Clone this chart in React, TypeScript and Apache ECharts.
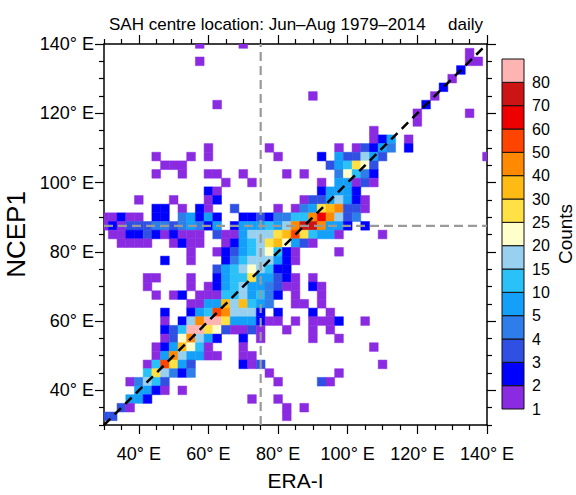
import React, { useEffect, useRef } from 'react';
import * as echarts from 'echarts';

// Colour-bar levels (lower bounds of each class) and colours
const levels = [1, 2, 3, 4, 5, 10, 15, 20, 25, 30, 40, 50, 60, 70, 80];
const levelColors = [
  '#8a2be2', '#0000ff', '#2f50e2', '#2e7de8', '#14a0f8', '#2ac0f8', '#98d0ef',
  '#ffffcc', '#ffe045', '#ffbb14', '#ff8a00', '#ff4400', '#ee0000', '#cc1414', '#ffb4b4',
];

const majorTicks = [40, 60, 80, 100, 120, 140];
const minorTicks = [30, 35, 45, 50, 55, 65, 70, 75, 85, 90, 95, 105, 110, 115, 125, 130, 135];
const meanEra = 75;
const meanNcep = 87.5;

// [ERA-I lon, NCEP1 lon, count]  — cells north of 92.5
const upperCells: [number, number, number][] = [
  [57.5, 140, 1], [70, 140, 1],
  [135, 137.5, 1],
  [57.5, 135, 1], [135, 135, 1], [137.5, 135, 1],
  [132.5, 132.5, 2],
  [130, 130, 1],
  [127.5, 127.5, 2],
  [90, 125, 1], [125, 125, 1],
  [62.5, 122.5, 1], [122.5, 122.5, 2],
  [120, 120, 1], [135, 120, 1],
  [120, 117.5, 1],
  [107.5, 115, 1],
  [107.5, 112.5, 1], [110, 112.5, 2], [112.5, 112.5, 7], [117.5, 112.5, 1],
  [60, 110, 1], [77.5, 110, 1], [97.5, 110, 1], [102.5, 110, 1], [105, 110, 3], [107.5, 110, 2], [110, 110, 7], [112.5, 110, 4], [117.5, 110, 2],
  [45, 107.5, 1], [55, 107.5, 1], [60, 107.5, 1], [80, 107.5, 1], [92.5, 107.5, 2], [97.5, 107.5, 7], [100, 107.5, 3], [102.5, 107.5, 3], [105, 107.5, 17], [107.5, 107.5, 7], [110, 107.5, 3], [140, 107.5, 1],
  [47.5, 105, 1], [50, 105, 1], [52.5, 105, 1], [95, 105, 3], [97.5, 105, 7], [100, 105, 12], [102.5, 105, 27], [105, 105, 22], [107.5, 105, 3],
  [45, 102.5, 1], [52.5, 102.5, 1], [60, 102.5, 1], [62.5, 102.5, 1], [70, 102.5, 1], [82.5, 102.5, 1], [87.5, 102.5, 1], [97.5, 102.5, 4], [100, 102.5, 22], [102.5, 102.5, 12], [105, 102.5, 4], [107.5, 102.5, 2],
  [65, 100, 1], [72.5, 100, 1], [92.5, 100, 1], [97.5, 100, 7], [100, 100, 7], [102.5, 100, 1], [105, 100, 3], [107.5, 100, 1],
  [60, 97.5, 2], [62.5, 97.5, 1], [92.5, 97.5, 2], [95, 97.5, 7], [97.5, 97.5, 7], [100, 97.5, 7], [102.5, 97.5, 2],
  [40, 95, 1], [50, 95, 1], [60, 95, 1], [62.5, 95, 2], [87.5, 95, 1], [90, 95, 3], [92.5, 95, 3], [95, 95, 7], [97.5, 95, 17], [100, 95, 7], [102.5, 95, 2], [105, 95, 1],
];

// cells 77.5 .. 92.5
const bandCells: [number, number, number][] = [
  [45, 92.5, 2], [47.5, 92.5, 2], [52.5, 92.5, 1], [57.5, 92.5, 2], [60, 92.5, 1], [67.5, 92.5, 3], [80, 92.5, 1], [85, 92.5, 1], [87.5, 92.5, 4], [90, 92.5, 7], [92.5, 92.5, 27], [95, 92.5, 35], [97.5, 92.5, 45], [100, 92.5, 3], [102.5, 92.5, 3], [105, 92.5, 1],
  [30, 90, 1], [32.5, 90, 1], [35, 90, 2], [37.5, 90, 1], [40, 90, 1], [45, 90, 2], [47.5, 90, 2], [52.5, 90, 4], [55, 90, 7], [57.5, 90, 2], [60, 90, 7], [62.5, 90, 2], [70, 90, 2], [72.5, 90, 2], [75, 90, 3], [77.5, 90, 2], [80, 90, 4], [82.5, 90, 4], [85, 90, 12], [87.5, 90, 12], [90, 90, 45], [92.5, 90, 65], [95, 90, 45], [97.5, 90, 17], [100, 90, 3], [102.5, 90, 4],
  [30, 87.5, 1], [32.5, 87.5, 2], [35, 87.5, 1], [37.5, 87.5, 3], [40, 87.5, 3], [42.5, 87.5, 3], [45, 87.5, 4], [47.5, 87.5, 4], [50, 87.5, 3], [52.5, 87.5, 4], [55, 87.5, 7], [57.5, 87.5, 4], [60, 87.5, 2], [62.5, 87.5, 7], [67.5, 87.5, 2], [70, 87.5, 7], [72.5, 87.5, 7], [75, 87.5, 7], [77.5, 87.5, 12], [80, 87.5, 7], [82.5, 87.5, 15], [85, 87.5, 45], [87.5, 87.5, 75], [90, 87.5, 75], [92.5, 87.5, 45], [95, 87.5, 7], [97.5, 87.5, 7], [100, 87.5, 2], [105, 87.5, 2],
  [32.5, 85, 1], [35, 85, 1], [37.5, 85, 2], [40, 85, 2], [42.5, 85, 3], [45, 85, 2], [47.5, 85, 1], [50, 85, 2], [52.5, 85, 1], [55, 85, 1], [57.5, 85, 1], [62.5, 85, 3], [65, 85, 1], [67.5, 85, 1], [70, 85, 7], [72.5, 85, 17], [75, 85, 17], [77.5, 85, 17], [80, 85, 27], [82.5, 85, 35], [85, 85, 55], [87.5, 85, 27], [90, 85, 12], [92.5, 85, 7], [95, 85, 7], [97.5, 85, 1], [110, 85, 1],
  [35, 82.5, 1], [37.5, 82.5, 1], [40, 82.5, 1], [42.5, 82.5, 1], [50, 82.5, 1], [52.5, 82.5, 2], [55, 82.5, 1], [57.5, 82.5, 1], [65, 82.5, 1], [67.5, 82.5, 2], [70, 82.5, 7], [72.5, 82.5, 12], [75, 82.5, 17], [77.5, 82.5, 27], [80, 82.5, 35], [82.5, 82.5, 22], [85, 82.5, 7], [87.5, 82.5, 3], [90, 82.5, 1],
  [55, 80, 1], [62.5, 80, 1], [65, 80, 2], [67.5, 80, 3], [70, 80, 7], [72.5, 80, 12], [75, 80, 17], [77.5, 80, 22], [80, 80, 12], [82.5, 80, 2], [85, 80, 1], [97.5, 80, 1],
  [47.5, 77.5, 2], [55, 77.5, 1], [65, 77.5, 2], [67.5, 77.5, 4], [70, 77.5, 12], [72.5, 77.5, 17], [75, 77.5, 17], [77.5, 77.5, 17], [80, 77.5, 7], [82.5, 77.5, 2], [85, 77.5, 1],
];

// cells south of 77.5
const lowerCells: [number, number, number][] = [
  [62.5, 75, 3], [65, 75, 7], [67.5, 75, 12], [70, 75, 17], [72.5, 75, 22], [75, 75, 17], [77.5, 75, 12], [80, 75, 2], [82.5, 75, 2],
  [42.5, 72.5, 1], [45, 72.5, 1], [55, 72.5, 1], [62.5, 72.5, 2], [65, 72.5, 7], [67.5, 72.5, 12], [70, 72.5, 12], [72.5, 72.5, 27], [75, 72.5, 7], [77.5, 72.5, 7], [80, 72.5, 3], [82.5, 72.5, 2], [85, 72.5, 1], [90, 72.5, 1],
  [42.5, 70, 1], [55, 70, 1], [60, 70, 1], [62.5, 70, 2], [65, 70, 7], [67.5, 70, 12], [70, 70, 17], [72.5, 70, 7], [75, 70, 7], [77.5, 70, 4], [80, 70, 3], [82.5, 70, 1], [85, 70, 1], [90, 70, 2], [92.5, 70, 1],
  [45, 67.5, 1], [50, 67.5, 1], [52.5, 67.5, 2], [57.5, 67.5, 1], [60, 67.5, 1], [62.5, 67.5, 1], [65, 67.5, 12], [67.5, 67.5, 12], [70, 67.5, 17], [72.5, 67.5, 7], [75, 67.5, 12], [77.5, 67.5, 4], [80, 67.5, 2], [85, 67.5, 1], [92.5, 67.5, 1],
  [55, 65, 1], [57.5, 65, 1], [60, 65, 7], [62.5, 65, 7], [65, 65, 35], [67.5, 65, 17], [70, 65, 35], [72.5, 65, 12], [75, 65, 7], [77.5, 65, 4], [85, 65, 1], [87.5, 65, 1], [92.5, 65, 1],
  [47.5, 62.5, 2], [55, 62.5, 2], [57.5, 62.5, 7], [60, 62.5, 12], [62.5, 62.5, 55], [65, 62.5, 45], [67.5, 62.5, 17], [70, 62.5, 17], [72.5, 62.5, 17], [75, 62.5, 2], [80, 62.5, 2], [90, 62.5, 2], [95, 62.5, 1],
  [47.5, 60, 1], [52.5, 60, 2], [55, 60, 17], [57.5, 60, 45], [60, 60, 85], [62.5, 60, 85], [65, 60, 27], [67.5, 60, 7], [70, 60, 7], [72.5, 60, 7], [75, 60, 2], [77.5, 60, 1], [80, 60, 1], [85, 60, 1], [90, 60, 1], [92.5, 60, 1], [95, 60, 1], [97.5, 60, 2], [105, 60, 1],
  [47.5, 57.5, 2], [50, 57.5, 3], [52.5, 57.5, 12], [55, 57.5, 85], [57.5, 57.5, 85], [60, 57.5, 27], [62.5, 57.5, 22], [65, 57.5, 3], [67.5, 57.5, 1], [70, 57.5, 1], [72.5, 57.5, 3], [75, 57.5, 1], [82.5, 57.5, 1], [90, 57.5, 1], [95, 57.5, 1],
  [47.5, 55, 1], [50, 55, 3], [52.5, 55, 22], [55, 55, 45], [57.5, 55, 17], [60, 55, 7], [62.5, 55, 2], [70, 55, 2], [75, 55, 1], [90, 55, 1], [97.5, 55, 1],
  [45, 52.5, 1], [47.5, 52.5, 2], [50, 52.5, 7], [52.5, 52.5, 35], [55, 52.5, 22], [57.5, 52.5, 12], [60, 52.5, 1], [70, 52.5, 1], [107.5, 52.5, 1],
  [45, 50, 1], [47.5, 50, 7], [50, 50, 45], [52.5, 50, 17], [55, 50, 7], [57.5, 50, 7], [60, 50, 1], [62.5, 50, 1], [70, 50, 1], [72.5, 50, 1],
  [42.5, 47.5, 1], [45, 47.5, 12], [47.5, 47.5, 55], [50, 47.5, 27], [52.5, 47.5, 7], [55, 47.5, 3], [70, 47.5, 2], [72.5, 47.5, 1], [75, 47.5, 3], [110, 47.5, 1],
  [42.5, 45, 12], [45, 45, 27], [47.5, 45, 17], [50, 45, 4], [52.5, 45, 2], [55, 45, 4], [77.5, 45, 1], [97.5, 45, 1],
  [37.5, 42.5, 1], [40, 42.5, 4], [42.5, 42.5, 17], [45, 42.5, 12], [47.5, 42.5, 3], [80, 42.5, 1], [92.5, 42.5, 3], [95, 42.5, 1],
  [40, 40, 7], [42.5, 40, 7], [45, 40, 2], [47.5, 40, 1], [52.5, 40, 1],
  [37.5, 37.5, 7], [40, 37.5, 7], [42.5, 37.5, 2], [72.5, 37.5, 1], [80, 37.5, 1],
  [35, 35, 3], [37.5, 35, 1], [82.5, 35, 1], [87.5, 35, 1],
  [30, 32.5, 3], [32.5, 32.5, 3], [82.5, 32.5, 1],
];

const cellHalf = 1.25;
const FONT = '"Liberation Sans", Arial, Helvetica, sans-serif';

function colorFor(c: number): string {
  let idx = 0;
  for (let i = 0; i < levels.length; i++) if (c >= levels[i]) idx = i;
  return levelColors[idx];
}

export default function App() {
  const ref = useRef<HTMLDivElement>(null);
  useEffect(() => {
    const chart = echarts.init(ref.current!, null, { renderer: 'svg' });
    const cells = [...upperCells, ...bandCells, ...lowerCells];
    const lonFmt = (v: number) => `${v}° E`;
    const axisLineStyle = { color: '#000', width: 1.5 };
    const mkAxis = (position: string, major: boolean, extra: any = {}) => ({
      type: 'value', gridIndex: 0, min: 30, max: 140, position,
      axisLine: { show: major, onZero: false, lineStyle: axisLineStyle },
      axisTick: { show: true, inside: false, customValues: major ? majorTicks : minorTicks, length: major ? 9 : 5, lineStyle: { color: '#000', width: 1.2 } },
      axisLabel: { show: false },
      splitLine: { show: false },
      ...extra,
    });

    const option: any = {
      animation: false,
      backgroundColor: '#fff',
      textStyle: { fontFamily: FONT },
      title: [
        { text: 'SAH centre location: Jun–Aug 1979–2014', left: 104, top: 11, textStyle: { fontSize: 17, fontWeight: 'normal', color: '#000', fontFamily: FONT } },
        { text: 'daily', right: 88, top: 11, textStyle: { fontSize: 17, fontWeight: 'normal', color: '#000', fontFamily: FONT } },
      ],
      grid: [
        { left: 104, top: 44, width: 383, height: 381, outerBoundsMode: 'none', containLabel: false },
        { left: 502, top: 59, width: 22, height: 350, outerBoundsMode: 'none', containLabel: false },
      ],
      xAxis: [
        mkAxis('bottom', true, {
          axisLabel: { show: true, customValues: majorTicks, formatter: lonFmt, fontSize: 18, color: '#000', margin: 20, fontFamily: FONT },
          name: 'ERA-I', nameLocation: 'middle', nameGap: 45, nameTextStyle: { fontSize: 21, color: '#000', fontFamily: FONT },
        }),
        mkAxis('bottom', false),
        mkAxis('top', true),
        mkAxis('top', false),
        { type: 'value', gridIndex: 1, min: 0, max: 1, show: false },
      ],
      yAxis: [
        mkAxis('left', true, {
          axisLabel: { show: true, customValues: majorTicks, formatter: lonFmt, fontSize: 18, color: '#000', margin: 10, fontFamily: FONT },
          name: 'NCEP1', nameLocation: 'middle', nameGap: 68, nameRotate: 90, nameTextStyle: { fontSize: 26, color: '#000', fontFamily: FONT },
        }),
        mkAxis('left', false),
        mkAxis('right', true),
        mkAxis('right', false),
        {
          type: 'value', gridIndex: 1, min: 0, max: levels.length, interval: 1, position: 'right',
          axisLine: { show: false }, axisTick: { show: false }, splitLine: { show: false },
          axisLabel: { show: true, fontSize: 16, color: '#000', margin: 8, fontFamily: FONT, formatter: (v: number) => (v < levels.length ? String(levels[v]) : '') },
          name: 'Counts', nameLocation: 'middle', nameGap: 32, nameRotate: 90, nameTextStyle: { fontSize: 19, color: '#000', fontFamily: FONT },
        },
      ],
      series: [
        {
          type: 'custom', xAxisIndex: 0, yAxisIndex: 0, clip: true, z: 2,
          data: cells,
          renderItem: (params: any, api: any) => {
            const x = api.value(0), y = api.value(1), c = api.value(2);
            const p0 = api.coord([x - cellHalf, y + cellHalf]);
            const p1 = api.coord([x + cellHalf, y - cellHalf]);
            const col = colorFor(c);
            return {
              type: 'rect',
              shape: { x: p0[0], y: p0[1], width: p1[0] - p0[0], height: p1[1] - p0[1] },
              style: { fill: col, stroke: col, lineWidth: 0.5 },
            };
          },
        },
        {
          type: 'line', xAxisIndex: 0, yAxisIndex: 0, z: 4, symbol: 'none', silent: true,
          data: [[meanEra, 30], [meanEra, 140]],
          lineStyle: { color: '#9a9a9a', width: 2.2, type: [9, 5] },
        },
        {
          type: 'line', xAxisIndex: 0, yAxisIndex: 0, z: 4, symbol: 'none', silent: true,
          data: [[30, meanNcep], [140, meanNcep]],
          lineStyle: { color: '#9a9a9a', width: 2.2, type: [9, 5] },
        },
        {
          type: 'line', xAxisIndex: 0, yAxisIndex: 0, z: 5, symbol: 'none', silent: true,
          data: [[30, 30], [140, 140]],
          lineStyle: { color: '#000', width: 2.5, type: [9, 6] },
        },
        {
          type: 'custom', xAxisIndex: 4, yAxisIndex: 4, z: 2,
          data: levels.map((_, i) => [0, i]),
          renderItem: (params: any, api: any) => {
            const i = api.value(1);
            const p0 = api.coord([0, i + 1]);
            const p1 = api.coord([1, i]);
            return {
              type: 'rect',
              shape: { x: p0[0], y: p0[1], width: p1[0] - p0[0], height: p1[1] - p0[1] },
              style: { fill: levelColors[i], stroke: '#111', lineWidth: 1 },
            };
          },
        },
      ],
    };
    chart.setOption(option);
    return () => chart.dispose();
  }, []);
  return <div ref={ref} style={{ position: 'absolute', left: 0, top: 0, width: 576, height: 495 }} />;
}
